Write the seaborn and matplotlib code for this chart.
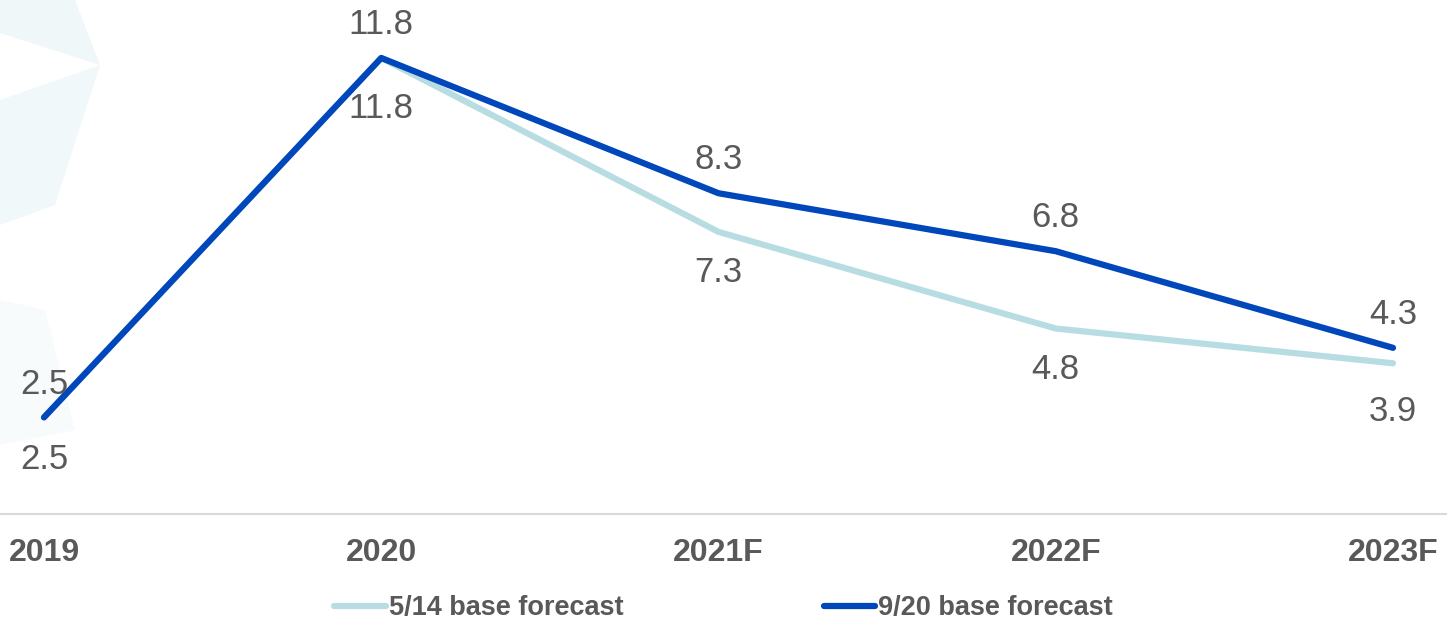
import matplotlib
matplotlib.use("Agg")
import matplotlib.pyplot as plt
from matplotlib.patches import Polygon
from matplotlib.lines import Line2D
import seaborn as sns
import pandas as pd

# Forecast data
years = ["2019", "2020", "2021F", "2022F", "2023F"]
may_forecast = [2.5, 11.8, 7.3, 4.8, 3.9]
sep_forecast = [2.5, 11.8, 8.3, 6.8, 4.3]
series_names = ["5/14 base forecast", "9/20 base forecast"]

LIGHT = "#B7DDE2"
DARK = "#0047BB"
GREY = "#595959"

df = pd.DataFrame({
    "year": years * 2,
    "value": may_forecast + sep_forecast,
    "series": [series_names[0]] * len(years) + [series_names[1]] * len(years),
})

sns.set_theme(style="white")
plt.rcParams["font.family"] = ["Liberation Sans", "DejaVu Sans"]

W, H = 1447, 621
fig = plt.figure(figsize=(W / 100, H / 100), dpi=100)

# faint decorative shapes in the upper-left corner (background layer)
bg = fig.add_axes([0, 0, 1, 1], zorder=-1)
bg.set_xlim(0, W)
bg.set_ylim(H, 0)
bg.axis("off")
for pts, col in [
    ([(0, 0), (75, 0), (100, 65), (0, 33)], "#F0F7F9"),
    ([(0, 100), (100, 65), (55, 205), (0, 225)], "#F1F8F9"),
    ([(0, 300), (45, 310), (75, 430), (0, 445)], "#F8FBFC"),
]:
    bg.add_patch(Polygon(pts, closed=True, facecolor=col, edgecolor="none"))

ax = fig.add_axes([0, 1 - 514 / H, 1, 514 / H])
ax.patch.set_alpha(0)

sns.lineplot(data=df, x="year", y="value", hue="series",
             palette=[LIGHT, DARK], linewidth=4.5, ax=ax, legend=False,
             sort=False)
for ln in ax.lines:
    ln.set_solid_capstyle("round")

ax.set_xlim(-44 / 337.25, 4 + 54 / 337.25)
ax.set_ylim(0, 13.3)

# value labels: later forecast above, earlier forecast below
below_offsets = [-30.5, -36.5, -29.5, -29.5, -34.5]
for i, (a, b) in enumerate(zip(may_forecast, sep_forecast)):
    ax.annotate(f"{b:.1f}", (i, b), xytext=(0, 24), textcoords="offset points",
                ha="center", va="center", fontsize=25, color=GREY)
    ax.annotate(f"{a:.1f}", (i, a), xytext=(0, below_offsets[i]), textcoords="offset points",
                ha="center", va="center", fontsize=25, color=GREY)

for s in ["top", "right", "left"]:
    ax.spines[s].set_visible(False)
ax.spines["bottom"].set_color("#D9D9D9")
ax.spines["bottom"].set_linewidth(1.5)
ax.set_yticks([])
ax.set_xlabel("")
ax.set_ylabel("")
ax.set_xticks(range(len(years)))
ax.set_xticklabels(years, fontsize=23, fontweight="bold", color=GREY)
ax.tick_params(axis="x", length=0, pad=17.5)

handles = [Line2D([], [], color=LIGHT, linewidth=4.5, solid_capstyle="round"),
           Line2D([], [], color=DARK, linewidth=4.5, solid_capstyle="round")]
leg = fig.legend(handles, series_names, loc="center", bbox_to_anchor=(0.5, 1 - 608 / H),
                 ncol=2, frameon=False, handlelength=1.9, handletextpad=0.1,
                 columnspacing=7.4, prop={"size": 19.5, "weight": "bold"})
for t in leg.get_texts():
    t.set_color(GREY)

fig.savefig("out.png", dpi=100)
